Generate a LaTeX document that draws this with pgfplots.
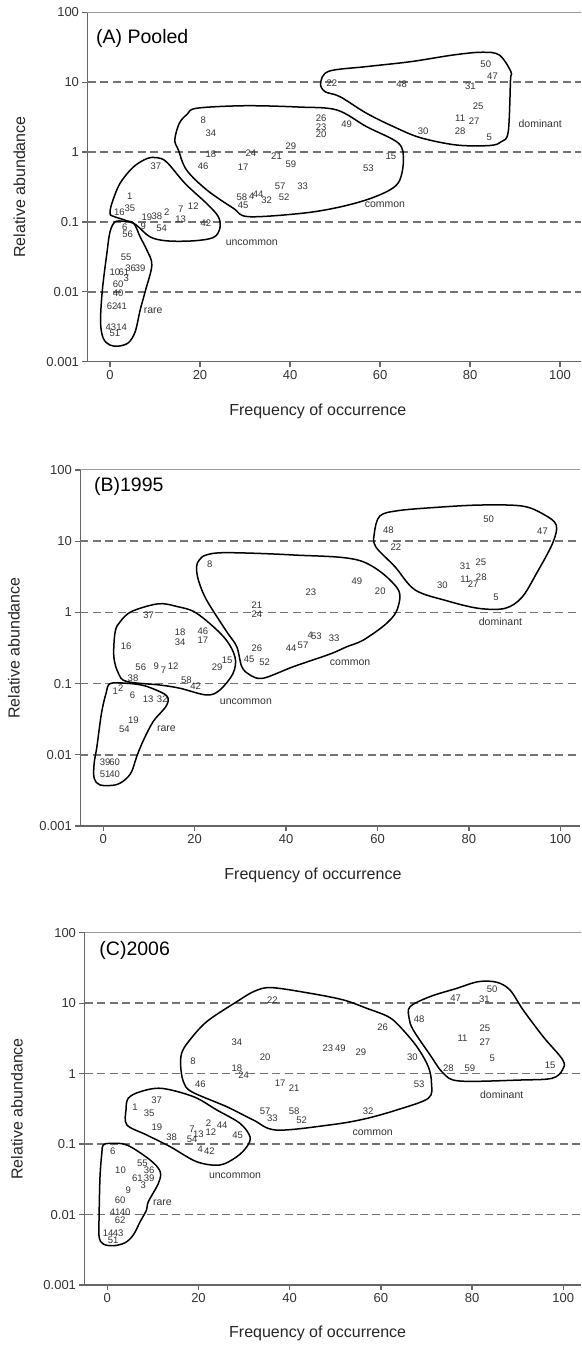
\documentclass[border=0pt]{standalone}
\usepackage{fontspec}
\setmainfont{Liberation Sans}
\usepackage{pgfplots}
\pgfplotsset{compat=1.18}

\pgfplotsset{
  every axis/.append style={
    scale only axis, xmin=-5, ymin=0.001, ymax=100,
    axis x line*=bottom, axis y line*=left,
    axis line style={draw=black!60, line width=1.6pt},
    tick style={draw=black!60, line width=1.3pt},
    major tick length=5pt, tick align=outside,
    xtick={0,20,40,60,80,100}, xticklabels={0,20,40,60,80,100},
    ytick={0.001,0.01,0.1,1,10,100}, yticklabels={0.001,0.01,0.1,1,10,100},
    yminorticks=false, xminorticks=false,
    tick label style={font=\fontsize{13}{15}\selectfont, text=black!80},
    every axis label/.append style={font=\fontsize{16}{18}\selectfont, text=black!85},
    xlabel={Frequency of occurrence}, ylabel={Relative abundance},
    clip=false,
  },
  mylab/.style={only marks, mark=none, nodes near coords, point meta=explicit symbolic,
    every node near coord/.append style={anchor=center, inner sep=0pt,
      font=\fontsize{9.5}{10}\selectfont, text=black!80}},
  mycat/.style={only marks, mark=none, nodes near coords, point meta=explicit symbolic,
    every node near coord/.append style={anchor=center, inner sep=0pt,
      font=\fontsize{10.5}{12}\selectfont, text=black!80}},
  myring/.style={black, line width=1.5pt, smooth cycle, tension=0.55},
  myhline/.style={draw=black!55, line width=1.7pt, dash pattern=on 8pt off 4.5pt},
  mytop/.style={draw=black!40, line width=1pt},
}
\tikzset{myttl/.style={anchor=west, inner sep=0pt, font=\fontsize{19.5}{22}\selectfont}}

\begin{document}
\begin{tikzpicture}
\path[use as bounding box] (0,0) rectangle (581pt,1346pt);

% ---------------- (A) Pooled ----------------
\begin{axis}[ymode=log, at={(87.5pt,984.3pt)}, anchor=south west,
  width=493.2pt, height=349.4pt, xmax=104.6,
  xlabel style={at={(axis description cs:0.467,-0.143)}, anchor=center},
  ylabel style={at={(axis description cs:-0.138,0.5)}, anchor=center}]
\addplot[mytop] coordinates {(-5,100) (104.6,100)};
\addplot[myhline] coordinates {(-5,10) (104.6,10)};
\addplot[myhline] coordinates {(-5,1) (104.6,1)};
\addplot[myhline] coordinates {(-5,0.1) (104.6,0.1)};
\addplot[myhline] coordinates {(-5,0.01) (104.6,0.01)};
% dominant
\addplot[myring] coordinates {(46.8,9.64) (47.8,7.31) (51.1,6.21) (57,3.59) (63,2.31)
  (68.9,1.61) (77,1.26) (84.4,1.24) (87,1.41) (88.5,1.96) (89,10.7) (89.1,14.1)
  (86.5,24.5) (82.6,26.8) (76.3,24.5) (66.7,19.6) (57,16.7) (48.6,14.3)};
% common
\addplot[myring] coordinates {(19.3,4.24) (30,4.6) (42.2,4.4) (50.4,4.0) (57,2.31)
  (64.1,1.34) (65.2,0.771) (64.4,0.398) (62.2,0.287) (57,0.207) (50,0.158)
  (42.2,0.132) (30.7,0.119) (27.4,0.157) (21.5,0.287) (17,0.555) (15.2,1.07)
  (14.4,1.49) (15.4,2.58) (17.2,3.5)};
% uncommon
\addplot[myring] coordinates {(0,0.132) (0.4,0.183) (2.2,0.354) (5.2,0.611) (8.2,0.805)
  (10.4,0.832) (12.6,0.719) (16.7,0.354) (21.5,0.183) (24.1,0.118) (24.4,0.0805)
  (22.96,0.0598) (18.5,0.0536) (12.6,0.0536) (8.9,0.0611) (5.9,0.0897) (4.4,0.1)
  (2.2,0.112) (0.5,0.122)};
% rare
\addplot[myring] coordinates {(1.1,0.1) (3,0.102) (5.2,0.0968) (6.7,0.0611) (8.2,0.0394)
  (9.3,0.024) (7.8,0.01) (6.7,0.00548) (5.6,0.00269) (4.1,0.00187) (1.9,0.00167)
  (0,0.00173) (-1.5,0.00216) (-2.1,0.00372) (-1.7,0.0106) (-0.7,0.0354) (0,0.0719)};
\addplot[mylab] table[x=x, y=y, meta=l] {
x y l
20.7 2.9 8
22.4 1.83 34
22.4 0.92 18
20.7 0.63 46
31.3 0.97 24
29.6 0.60 17
37.0 0.87 21
40.2 1.23 29
40.2 0.68 59
37.8 0.324 57
42.8 0.32 33
46.9 3.05 26
46.9 2.25 23
46.9 1.78 20
10.2 0.625 37
4.4 0.23 1
49.3 9.8 22
64.8 9.2 48
83.5 17.8 50
85.0 12.2 47
80.1 8.7 31
81.8 4.5 25
77.8 3.06 11
80.9 2.75 27
77.8 1.98 28
69.6 1.98 30
84.3 1.64 5
52.6 2.49 49
62.4 0.88 15
57.4 0.59 53
2.1 0.136 16
4.4 0.155 35
8.2 0.118 19
10.4 0.12 38
12.6 0.136 2
15.7 0.152 7
18.5 0.169 12
15.7 0.108 13
21.3 0.095 42
11.5 0.082 54
7.4 0.088 9
3.3 0.084 6
3.9 0.067 56
29.3 0.227 58
29.6 0.173 45
31.5 0.235 4
32.9 0.246 44
34.8 0.204 32
38.7 0.223 52
3.6 0.0316 55
4.6 0.022 36
6.7 0.022 39
1.1 0.019 10
3.1 0.019 61
3.6 0.0155 3
1.8 0.0128 60
1.8 0.0095 40
0.5 0.0063 62
2.6 0.0063 41
0.2 0.00316 43
2.6 0.00316 14
1.1 0.00255 51
};
\addplot[mycat] table[x=x, y=y, meta=l] {
x y l
95.6 2.55 dominant
61.1 0.174 common
31.5 0.05 uncommon
9.6 0.0053 rare
};
\node[myttl] at (axis description cs:0.0172,0.926) {(A) Pooled};
\end{axis}

% ---------------- (B) 1995 ----------------
\begin{axis}[ymode=log, at={(80.45pt,520pt)}, anchor=south west,
  width=500pt, height=356pt, xmax=104.4,
  xlabel style={at={(axis description cs:0.465,-0.140)}, anchor=center},
  ylabel style={at={(axis description cs:-0.133,0.5)}, anchor=center}]
\addplot[mytop] coordinates {(-5,100) (104.4,100)};
\addplot[myhline] coordinates {(-5,10) (104.4,10)};
\addplot[myhline] coordinates {(-5,1) (104.4,1)};
\addplot[myhline] coordinates {(-5,0.1) (104.4,0.1)};
\addplot[myhline] coordinates {(-5,0.01) (104.4,0.01)};
% dominant
\addplot[myring] coordinates {(60.5,22.6) (64.6,26.9) (73,29.9) (82.4,32.2) (91.6,31.2)
  (96.3,23.9) (99.1,16.9) (98.3,9.33) (94.8,3.54) (91.6,1.63) (87.9,1.14) (82.1,1.14)
  (75.1,1.46) (68.2,2.07) (63.8,4.39) (59.6,8.37) (59.3,12.9)};
% common
\addplot[myring] coordinates {(22.5,6.4) (27,6.9) (41.6,6.4) (56.2,5.32) (64.2,2.25)
  (64.4,1.14) (62,0.703) (56.9,0.409) (53.3,0.33) (49.6,0.26) (41.6,0.173) (35,0.119)
  (32.1,0.132) (30.3,0.173) (29.2,0.33) (27,0.536) (22.6,1.49) (20.8,2.85) (20.4,4.39)
  (21,5.44)};
% uncommon
\addplot[myring] coordinates {(2.6,0.536) (3.7,0.741) (6.2,1.03) (12,1.32) (16.1,1.21)
  (20.4,0.975) (26.3,0.456) (28.8,0.239) (28.4,0.14) (25.5,0.0813) (22.6,0.0692)
  (16.8,0.0859) (12.4,0.0955) (5.1,0.107) (3.3,0.14) (2.3,0.239)};
% rare
\addplot[myring] coordinates {(1.5,0.1) (5.1,0.101) (9,0.0933) (13.1,0.0731) (14.2,0.0617)
  (13.9,0.0501) (13.1,0.0426) (10.9,0.0292) (8.8,0.0161) (7.3,0.00942) (6.2,0.00579)
  (4.7,0.00443) (2.6,0.00377) (-0.7,0.00377) (-2,0.00468) (-2,0.0076) (-1.4,0.013)
  (-0.4,0.0383) (0.6,0.0731)};
\addplot[mylab] table[x=x, y=y, meta=l] {
x y l
23.3 4.8 8
45.4 1.9 23
55.5 2.7 49
33.6 1.25 21
33.6 0.95 24
9.9 0.9 37
16.8 0.52 18
16.8 0.38 34
21.8 0.55 46
21.8 0.41 17
5.0 0.33 16
8.2 0.17 56
11.6 0.178 9
13.2 0.152 7
15.3 0.178 12
24.9 0.17 29
27.1 0.21 15
33.6 0.31 26
31.9 0.22 45
35.3 0.20 52
41.1 0.31 44
43.7 0.35 57
45.3 0.48 4
46.6 0.457 53
50.5 0.43 33
6.5 0.119 38
18.2 0.11 58
20.2 0.091 42
2.6 0.077 1
3.8 0.086 2
6.4 0.068 6
9.8 0.061 13
12.9 0.061 32
6.6 0.031 19
4.6 0.023 54
0.4 0.0078 39
2.5 0.0078 60
0.4 0.0054 51
2.5 0.0054 40
62.4 14.1 48
64.0 8.2 22
84.3 20.4 50
96.1 13.6 47
79.2 4.4 31
82.6 5.1 25
79.2 2.9 11
82.7 3.1 28
80.9 2.5 27
74.2 2.43 30
85.9 1.63 5
60.6 1.96 20
};
\addplot[mycat] table[x=x, y=y, meta=l] {
x y l
86.9 0.73 dominant
54.0 0.197 common
31.2 0.055 uncommon
13.8 0.023 rare
};
\node[myttl] at (axis description cs:0.027,0.953) {(B)1995};
\end{axis}

% ---------------- (C) 2006 ----------------
\begin{axis}[ymode=log, at={(84.5pt,61pt)}, anchor=south west,
  width=496.1pt, height=352.3pt, xmax=103.8,
  xlabel style={at={(axis description cs:0.47,-0.136)}, anchor=center},
  ylabel style={at={(axis description cs:-0.136,0.5)}, anchor=center}]
\addplot[mytop] coordinates {(-5,100) (103.8,100)};
\addplot[myhline] coordinates {(-5,10) (103.8,10)};
\addplot[myhline] coordinates {(-5,1) (103.8,1)};
\addplot[myhline] coordinates {(-5,0.1) (103.8,0.1)};
\addplot[myhline] coordinates {(-5,0.01) (103.8,0.01)};
% dominant
\addplot[myring] coordinates {(66.4,8.91) (70.8,12.4) (76.6,16.2) (81.4,20.2) (85.4,19.8)
  (88.3,15.4) (91.2,8.0) (95.6,3.34) (99.9,1.56) (99.8,1.12) (97.5,0.857) (90.5,0.811)
  (77.3,0.785) (73.7,1.01) (70.8,1.84) (67.1,4.16) (66.2,6.1)};
% common
\addplot[myring] coordinates {(17.8,2.84) (16.3,1.94) (16.1,1.25) (16.7,0.767) (18.5,0.553)
  (26.2,0.339) (32,0.22) (37.1,0.158) (48.8,0.187) (56.1,0.225) (63.5,0.305)
  (70.4,0.447) (71.1,0.729) (70.4,1.25) (67.9,2.41) (64.2,4.63) (61.6,6.43)
  (56.9,8.45) (51.8,11.1) (44.5,13.8) (36.1,16.6) (32.4,14.9) (28.4,10.5) (21.8,5.46)};
% uncommon
\addplot[myring] coordinates {(4.6,0.447) (7.2,0.553) (11.9,0.618) (18.9,0.471) (24,0.305)
  (29.1,0.197) (31.3,0.127) (30.6,0.0918) (28.4,0.0662) (24.7,0.0505) (19.6,0.0562)
  (13.8,0.0918) (8.6,0.135) (4.3,0.187) (4.1,0.305)};
% rare
\addplot[myring] coordinates {(-0.9,0.097) (0.6,0.102) (4.3,0.097) (9.4,0.0594) (11.6,0.0406)
  (11.2,0.0277) (9,0.0152) (8.6,0.0116) (7.2,0.0079) (5.7,0.00513) (3.9,0.00398)
  (1.3,0.00361) (-0.9,0.00382) (-1.8,0.00485) (-1.8,0.00933) (-1.6,0.0344) (-1.2,0.074)};
\addplot[mylab] table[x=x, y=y, meta=l] {
x y l
36.2 11 22
28.4 2.8 34
34.6 1.72 20
48.4 2.27 23
51.1 2.27 49
18.8 1.5 8
28.4 1.18 18
29.9 0.95 24
20.4 0.7 46
37.9 0.72 17
41.0 0.62 21
10.8 0.417 37
6.1 0.335 1
9.2 0.27 35
34.6 0.29 57
36.2 0.233 33
41.0 0.29 58
42.6 0.217 52
10.9 0.173 19
84.4 15.8 50
76.4 11.7 47
82.7 11.5 31
68.4 5.9 48
82.8 4.4 25
77.9 3.17 11
82.8 2.75 27
84.4 1.65 5
74.8 1.19 28
79.5 1.19 59
97.1 1.3 15
60.4 4.5 26
55.6 1.98 29
66.9 1.7 30
68.4 0.7 53
57.2 0.295 32
14.1 0.125 38
22.2 0.197 2
25.2 0.187 44
18.6 0.162 7
20.0 0.137 13
18.6 0.118 54
22.7 0.147 12
20.4 0.084 4
22.4 0.079 42
28.6 0.134 45
1.2 0.08 6
7.7 0.054 55
2.9 0.042 10
9.2 0.042 36
6.6 0.033 61
9.2 0.033 39
7.9 0.026 3
4.6 0.022 9
2.8 0.016 60
1.7 0.0108 41
3.9 0.0108 40
2.8 0.0082 62
0.2 0.0054 14
2.4 0.0054 43
1.3 0.0043 51
};
\addplot[mycat] table[x=x, y=y, meta=l] {
x y l
86.5 0.498 dominant
58.2 0.145 common
28.0 0.035 uncommon
12.1 0.0147 rare
};
\node[myttl] at (axis description cs:0.0298,0.951) {(C)2006};
\end{axis}
\end{tikzpicture}
\end{document}
